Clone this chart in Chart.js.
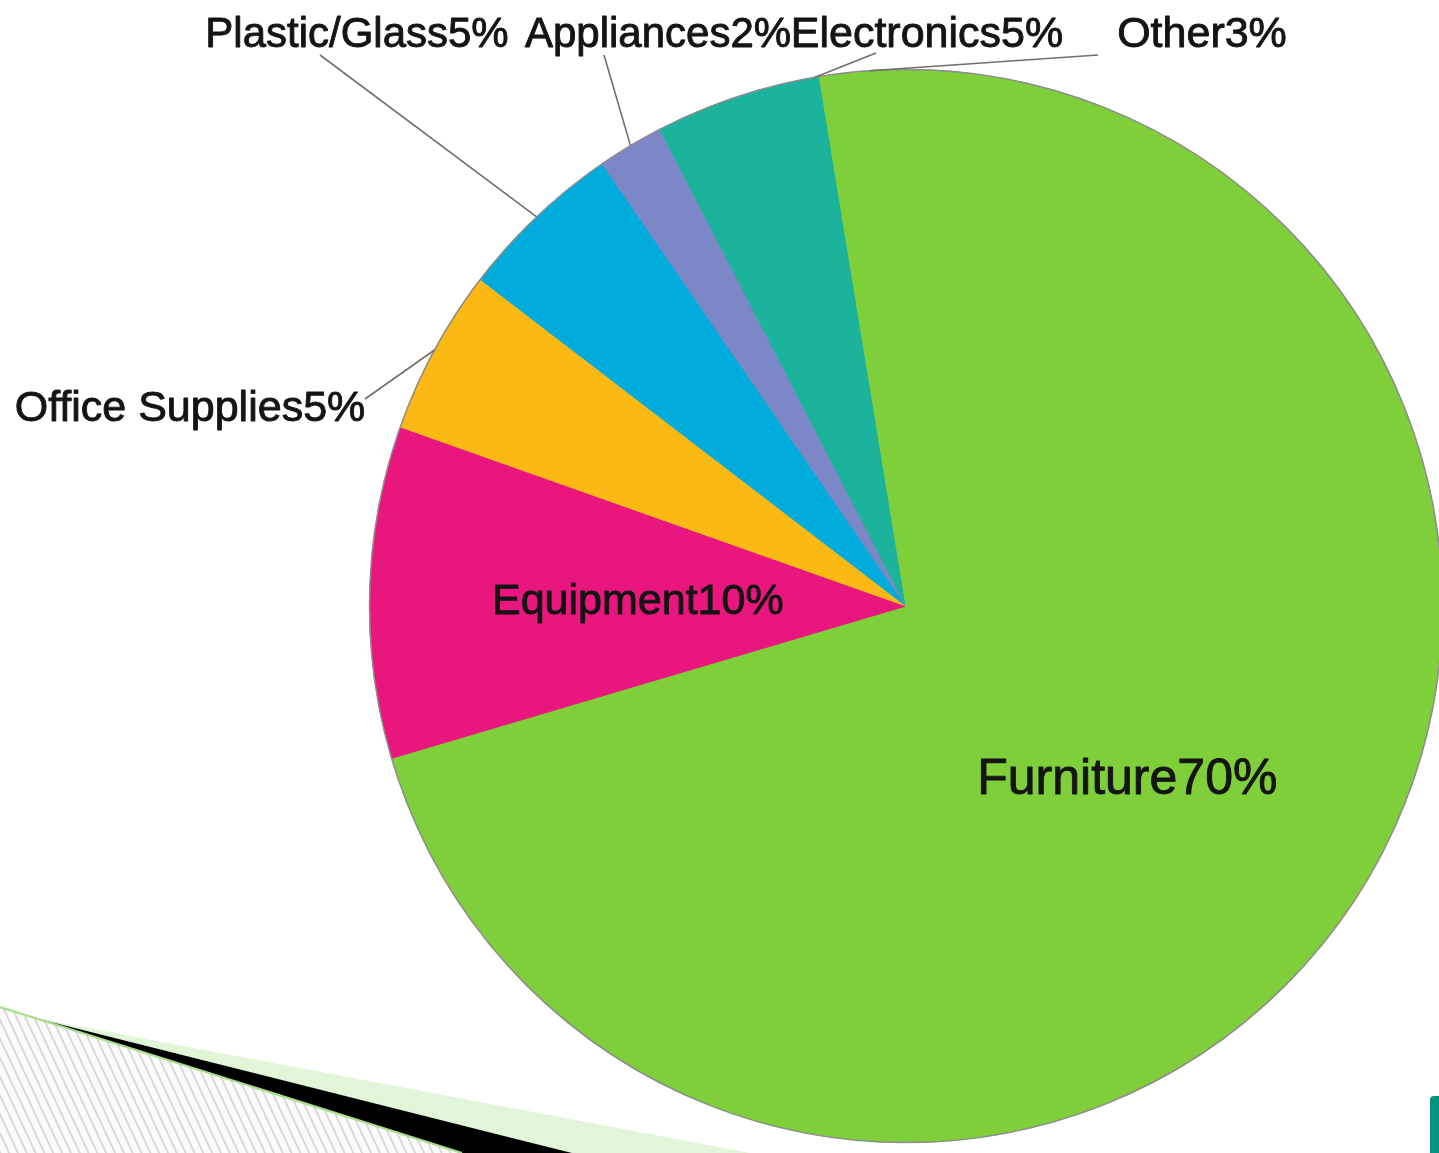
<!DOCTYPE html>
<html>
<head>
<meta charset="utf-8">
<script src="https://cdn.jsdelivr.net/npm/chart.js@4/dist/chart.umd.min.js"></script>
<style>
  html, body { margin: 0; padding: 0; width: 1439px; height: 1153px; overflow: hidden; background: #ffffff; }
  #deco { position: absolute; left: 0; top: 0; z-index: 0; }
  #wrap { position: absolute; left: 0; top: 0; width: 1460px; height: 1160px; z-index: 1; }
</style>
</head>
<body>
<svg id="deco" width="1439" height="1153" viewBox="0 0 1439 1153">
  <defs>
    <pattern id="hatch" width="8" height="8" patternUnits="userSpaceOnUse" patternTransform="rotate(-25)">
      <rect width="8" height="8" fill="#fbfbfb"/>
      <line x1="1" y1="0" x2="1" y2="8" stroke="#bdbdbd" stroke-width="1.1"/>
    </pattern>
  </defs>
  <polygon points="0,1007 462,1153 0,1153" fill="url(#hatch)"/>
  <polygon points="35,1018 750,1153 572,1153" fill="#e1f5d9"/>
  <polygon points="35,1018 572,1153 462,1153" fill="#000000"/>
  <line x1="0" y1="1007" x2="462" y2="1153" stroke="#a8df8a" stroke-width="2.2"/>
  <rect x="1430" y="1096" width="30" height="80" rx="4" ry="4" fill="#00937f"/>
</svg>
<div id="wrap"><canvas id="c" width="1460" height="1160"></canvas></div>
<script>
// ---- data ----
const categories = ['Furniture', 'Equipment', 'Office Supplies', 'Plastic/Glass', 'Appliances', 'Electronics', 'Other'];
const shares = [70, 10, 5, 5, 2, 5, 3];

// ---- style ----
const sliceColors = ['#7ecf3a', '#e9177d', '#fdb913', '#00acdb', '#7b87c6', '#1bb39b', '#7ecf3a'];
const fontFamily = '"Liberation Sans", Arial, sans-serif';
// placement of each label (outside labels with leader lines, inside labels at mid radius)
const labelPlacement = {
  'Furniture':       { inside: true, r: 0.52, size: 50 },
  'Equipment':       { inside: true, r: 0.50, size: 43 },
  'Office Supplies': { x: 190, y: 421, lx: 365, ly: 399, f: 0.5, size: 43 },
  'Plastic/Glass':   { x: 357, y: 47, lx: 320, ly: 55, f: 0.5, size: 42 },
  'Appliances':      { x: 658, y: 47, lx: 604, ly: 55, f: 0.5, size: 42 },
  'Electronics':     { x: 927, y: 47, lx: 876, ly: 53, f: 0.97, size: 43 },
  'Other':           { x: 1202, y: 47, lx: 1098, ly: 55, f: 0.5, size: 43 }
};

const pieLabels = {
  id: 'pieLabels',
  afterDatasetsDraw(chart) {
    const ctx = chart.ctx;
    const meta = chart.getDatasetMeta(0);
    const a0 = meta.data[0];
    const cx = a0.x, cy = a0.y, R = a0.outerRadius;
    ctx.save();
    // outline
    ctx.beginPath();
    ctx.arc(cx, cy, R, 0, Math.PI * 2);
    ctx.strokeStyle = '#8d8d8d';
    ctx.lineWidth = 1.5;
    ctx.stroke();

    ctx.textAlign = 'center';
    ctx.textBaseline = 'alphabetic';
    ctx.lineJoin = 'round';
    const drawText = (text, x, y, size) => {
      ctx.font = size + 'px ' + fontFamily;
      ctx.fillStyle = '#141414';
      ctx.strokeStyle = '#141414';
      ctx.lineWidth = 0.9;
      ctx.fillText(text, x, y);
      ctx.strokeText(text, x, y);
    };
    meta.data.forEach((arc, i) => {
      const name = categories[i];
      const p = labelPlacement[name];
      const text = name + shares[i] + '%';
      if (p.inside) {
        const mid = (arc.startAngle + arc.endAngle) / 2;
        const tx = cx + Math.cos(mid) * R * p.r;
        const ty = cy + Math.sin(mid) * R * p.r;
        drawText(text, tx, ty + p.size * 0.36, p.size);
      } else {
        const ang = arc.startAngle + (arc.endAngle - arc.startAngle) * p.f;
        const ex = cx + Math.cos(ang) * R;
        const ey = cy + Math.sin(ang) * R;
        ctx.beginPath();
        ctx.moveTo(p.lx, p.ly);
        ctx.lineTo(ex, ey);
        ctx.strokeStyle = '#6f6f6f';
        ctx.lineWidth = 1.6;
        ctx.stroke();
        drawText(text, p.x, p.y, p.size);
      }
    });
    ctx.restore();
  }
};

new Chart(document.getElementById('c'), {
  type: 'pie',
  data: {
    labels: categories,
    datasets: [{
      data: shares,
      backgroundColor: sliceColors,
      borderColor: sliceColors,
      borderWidth: 1,
      hoverOffset: 0
    }]
  },
  options: {
    responsive: false,
    animation: false,
    rotation: 1.5,
    layout: { padding: { left: 369, top: 69, right: 17, bottom: 17 } },
    plugins: {
      legend: { display: false },
      tooltip: { enabled: false }
    }
  },
  plugins: [pieLabels]
});
</script>
</body>
</html>
